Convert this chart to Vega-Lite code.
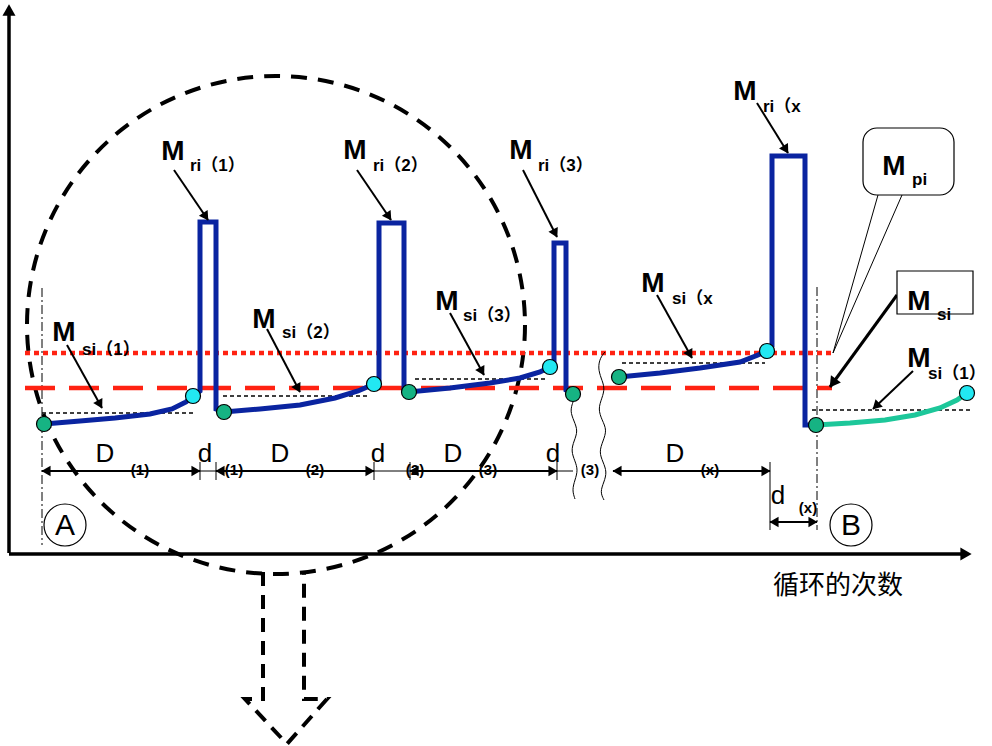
{
  "$schema": "https://vega.github.io/schema/vega-lite/v6.json",
  "width": 992,
  "height": 746,
  "padding": 0,
  "autosize": "none",
  "background": "white",
  "config": {"view": {"stroke": null}},
  "datasets": {
    "circle": [{"x": 276, "y": 325}],
    "axes": [{"x": 9, "y": 553, "x2": 9, "y2": 12}, {"x": 9, "y": 554, "x2": 964, "y2": 554}],
    "axisHeads": [{"x": 9, "y": 10, "ang": 0}, {"x": 966, "y": 554, "ang": 90}],
    "redDot": [{"x": 25, "y": 353, "x2": 832, "y2": 353}],
    "redDash": [{"x": 25, "y": 388, "x2": 832, "y2": 388}],
    "refs": [
      {"x": 42, "y": 413, "x2": 193, "y2": 413},
      {"x": 223, "y": 396, "x2": 367, "y2": 396},
      {"x": 415, "y": 379, "x2": 548, "y2": 379},
      {"x": 622, "y": 363, "x2": 765, "y2": 363},
      {"x": 812, "y": 410, "x2": 970, "y2": 410}
    ],
    "dashdot": [{"x": 42, "y": 288, "x2": 42, "y2": 545}, {"x": 817, "y": 287, "x2": 817, "y2": 530}],
    "blue": [
      {"g": "p1", "i": 1, "x": 44, "y": 424}, {"g": "p1", "i": 2, "x": 80, "y": 421}, {"g": "p1", "i": 3, "x": 115, "y": 418},
      {"g": "p1", "i": 4, "x": 150, "y": 414}, {"g": "p1", "i": 5, "x": 172, "y": 409}, {"g": "p1", "i": 6, "x": 186, "y": 402},
      {"g": "p1", "i": 7, "x": 193, "y": 396}, {"g": "p1", "i": 8, "x": 200, "y": 391}, {"g": "p1", "i": 9, "x": 200, "y": 222},
      {"g": "p1", "i": 10, "x": 216, "y": 222}, {"g": "p1", "i": 11, "x": 216, "y": 409}, {"g": "p1", "i": 12, "x": 224, "y": 412},
      {"g": "p1", "i": 13, "x": 260, "y": 409}, {"g": "p1", "i": 14, "x": 300, "y": 405}, {"g": "p1", "i": 15, "x": 335, "y": 398},
      {"g": "p1", "i": 16, "x": 358, "y": 391}, {"g": "p1", "i": 17, "x": 374, "y": 384}, {"g": "p1", "i": 18, "x": 379, "y": 380},
      {"g": "p1", "i": 19, "x": 379, "y": 223}, {"g": "p1", "i": 20, "x": 404, "y": 223}, {"g": "p1", "i": 21, "x": 404, "y": 390},
      {"g": "p1", "i": 22, "x": 409, "y": 392}, {"g": "p1", "i": 23, "x": 450, "y": 388}, {"g": "p1", "i": 24, "x": 490, "y": 383},
      {"g": "p1", "i": 25, "x": 520, "y": 378}, {"g": "p1", "i": 26, "x": 540, "y": 372}, {"g": "p1", "i": 27, "x": 550, "y": 367},
      {"g": "p1", "i": 28, "x": 554, "y": 363}, {"g": "p1", "i": 29, "x": 554, "y": 243}, {"g": "p1", "i": 30, "x": 566, "y": 243},
      {"g": "p1", "i": 31, "x": 566, "y": 390}, {"g": "p1", "i": 32, "x": 573, "y": 394},
      {"g": "p2", "i": 1, "x": 619, "y": 377}, {"g": "p2", "i": 2, "x": 660, "y": 373}, {"g": "p2", "i": 3, "x": 700, "y": 368},
      {"g": "p2", "i": 4, "x": 740, "y": 362}, {"g": "p2", "i": 5, "x": 758, "y": 355}, {"g": "p2", "i": 6, "x": 767, "y": 351},
      {"g": "p2", "i": 7, "x": 772, "y": 346}, {"g": "p2", "i": 8, "x": 772, "y": 156}, {"g": "p2", "i": 9, "x": 805, "y": 156},
      {"g": "p2", "i": 10, "x": 805, "y": 425}, {"g": "p2", "i": 11, "x": 816, "y": 425}
    ],
    "teal": [
      {"i": 1, "x": 816, "y": 425}, {"i": 2, "x": 850, "y": 423}, {"i": 3, "x": 885, "y": 420}, {"i": 4, "x": 915, "y": 415},
      {"i": 5, "x": 940, "y": 408}, {"i": 6, "x": 957, "y": 400}, {"i": 7, "x": 967, "y": 393}
    ],
    "greenDots": [{"x": 44, "y": 424}, {"x": 224, "y": 412}, {"x": 409, "y": 392}, {"x": 573, "y": 394}, {"x": 619, "y": 377}, {"x": 816, "y": 425}],
    "cyanDots": [{"x": 193, "y": 396}, {"x": 374, "y": 384}, {"x": 550, "y": 367}, {"x": 767, "y": 351}, {"x": 967, "y": 393}],
    "wavy": [
      {"g": "w1", "i": 1, "x": 573, "y": 402}, {"g": "w1", "i": 2, "x": 570, "y": 411}, {"g": "w1", "i": 3, "x": 574, "y": 421},
      {"g": "w1", "i": 4, "x": 578, "y": 431}, {"g": "w1", "i": 5, "x": 574, "y": 441}, {"g": "w1", "i": 6, "x": 571, "y": 451},
      {"g": "w1", "i": 7, "x": 575, "y": 461}, {"g": "w1", "i": 8, "x": 578, "y": 470}, {"g": "w1", "i": 9, "x": 575, "y": 480},
      {"g": "w1", "i": 10, "x": 572, "y": 490}, {"g": "w1", "i": 11, "x": 575, "y": 499},
      {"g": "w2", "i": 1, "x": 605, "y": 352}, {"g": "w2", "i": 2, "x": 600, "y": 358}, {"g": "w2", "i": 3, "x": 598, "y": 368},
      {"g": "w2", "i": 4, "x": 601, "y": 378}, {"g": "w2", "i": 5, "x": 605, "y": 388}, {"g": "w2", "i": 6, "x": 602, "y": 398},
      {"g": "w2", "i": 7, "x": 598, "y": 409}, {"g": "w2", "i": 8, "x": 602, "y": 420}, {"g": "w2", "i": 9, "x": 607, "y": 430},
      {"g": "w2", "i": 10, "x": 603, "y": 441}, {"g": "w2", "i": 11, "x": 599, "y": 452}, {"g": "w2", "i": 12, "x": 603, "y": 462},
      {"g": "w2", "i": 13, "x": 607, "y": 472}, {"g": "w2", "i": 14, "x": 604, "y": 482}, {"g": "w2", "i": 15, "x": 600, "y": 492},
      {"g": "w2", "i": 16, "x": 604, "y": 500}
    ],
    "bigArrow": [
      {"i": 1, "x": 263, "y": 572}, {"i": 2, "x": 263, "y": 699}, {"i": 3, "x": 245, "y": 699}, {"i": 4, "x": 287, "y": 744},
      {"i": 5, "x": 327, "y": 699}, {"i": 6, "x": 304, "y": 699}, {"i": 7, "x": 304, "y": 572}
    ],
    "labelArrows": [
      {"x": 67, "y": 345, "x2": 102, "y2": 408},
      {"x": 267, "y": 329, "x2": 300, "y2": 392},
      {"x": 450, "y": 313, "x2": 484, "y2": 375},
      {"x": 657, "y": 295, "x2": 692, "y2": 358},
      {"x": 174, "y": 170, "x2": 208, "y2": 220},
      {"x": 357, "y": 170, "x2": 391, "y2": 220},
      {"x": 523, "y": 170, "x2": 557, "y2": 237},
      {"x": 757, "y": 103, "x2": 788, "y2": 153},
      {"x": 913, "y": 371, "x2": 873, "y2": 409}
    ],
    "boxArrow": [{"x": 897, "y": 295, "x2": 830, "y2": 387}],
    "labelHeads": [
      {"x": 100, "y": 404.5, "ang": 151}, {"x": 298, "y": 388.5, "ang": 152}, {"x": 482, "y": 371.5, "ang": 151},
      {"x": 690, "y": 354.5, "ang": 151}, {"x": 205.8, "y": 216.7, "ang": 146}, {"x": 388.8, "y": 216.7, "ang": 146},
      {"x": 555.2, "y": 233.4, "ang": 153}, {"x": 785.9, "y": 149.6, "ang": 148}, {"x": 875.9, "y": 406.2, "ang": 226}
    ],
    "boxHead": [{"x": 832.8, "y": 383.2, "ang": 216}],
    "dims": [
      {"x": 42, "y": 471, "x2": 200, "y2": 471},
      {"x": 216, "y": 471, "x2": 374, "y2": 471},
      {"x": 410, "y": 471, "x2": 557, "y2": 471},
      {"x": 613, "y": 471, "x2": 770, "y2": 471},
      {"x": 770, "y": 522, "x2": 817, "y2": 522}
    ],
    "dimHeads": [
      {"x": 46, "y": 471, "ang": 270}, {"x": 196, "y": 471, "ang": 90},
      {"x": 220, "y": 471, "ang": 270}, {"x": 370, "y": 471, "ang": 90},
      {"x": 414, "y": 471, "ang": 270}, {"x": 553, "y": 471, "ang": 90},
      {"x": 617, "y": 471, "ang": 270}, {"x": 766, "y": 471, "ang": 90},
      {"x": 774, "y": 522, "ang": 270}, {"x": 813, "y": 522, "ang": 90}
    ],
    "thin": [
      {"x": 200, "y": 471, "x2": 216, "y2": 471},
      {"x": 374, "y": 471, "x2": 410, "y2": 471},
      {"x": 557, "y": 471, "x2": 573, "y2": 471},
      {"x": 200, "y": 462, "x2": 200, "y2": 480},
      {"x": 216, "y": 462, "x2": 216, "y2": 480},
      {"x": 374, "y": 462, "x2": 374, "y2": 480},
      {"x": 410, "y": 462, "x2": 410, "y2": 480},
      {"x": 557, "y": 462, "x2": 557, "y2": 480},
      {"x": 770, "y": 462, "x2": 770, "y2": 530},
      {"x": 878, "y": 195, "x2": 833, "y2": 353},
      {"x": 902, "y": 195, "x2": 833, "y2": 353}
    ],
    "calloutBox": [{"x": 863, "y": 128, "x2": 954, "y2": 195}],
    "siBox": [{"x": 897, "y": 271, "x2": 973, "y2": 314}],
    "bigM": [
      {"x": 64, "y": 341, "t": "M"}, {"x": 264, "y": 328, "t": "M"}, {"x": 447, "y": 310, "t": "M"},
      {"x": 653, "y": 292, "t": "M"}, {"x": 173, "y": 160, "t": "M"}, {"x": 355, "y": 159, "t": "M"},
      {"x": 521, "y": 159, "t": "M"}, {"x": 745, "y": 100, "t": "M"}, {"x": 894, "y": 175, "t": "M"},
      {"x": 919, "y": 310, "t": "M"}, {"x": 919, "y": 367, "t": "M"}
    ],
    "subs": [
      {"x": 82, "y": 355, "t": "si（1）"}, {"x": 282, "y": 338, "t": "si（2）"}, {"x": 463, "y": 321, "t": "si（3）"},
      {"x": 672, "y": 304, "t": "si（x"}, {"x": 190, "y": 171, "t": "ri（1）"}, {"x": 373, "y": 171, "t": "ri（2）"},
      {"x": 538, "y": 171, "t": "ri（3）"}, {"x": 763, "y": 112, "t": "ri（x"}, {"x": 912, "y": 185, "t": "pi"},
      {"x": 937, "y": 320, "t": "si"}, {"x": 928, "y": 379, "t": "si（1）"}
    ],
    "dimText": [
      {"x": 105, "y": 462, "t": "D"}, {"x": 280, "y": 462, "t": "D"}, {"x": 453, "y": 462, "t": "D"}, {"x": 675, "y": 462, "t": "D"},
      {"x": 205, "y": 462, "t": "d"}, {"x": 378, "y": 462, "t": "d"}, {"x": 553, "y": 462, "t": "d"}, {"x": 778, "y": 504, "t": "d"}
    ],
    "dimSubs": [
      {"x": 140, "y": 475, "t": "(1)"}, {"x": 234, "y": 475, "t": "(1)"}, {"x": 315, "y": 475, "t": "(2)"},
      {"x": 415, "y": 475, "t": "(2)"}, {"x": 488, "y": 475, "t": "(3)"}, {"x": 590, "y": 475, "t": "(3)"},
      {"x": 710, "y": 475, "t": "(x)"}, {"x": 808, "y": 513, "t": "(x)"}
    ],
    "circles": [{"x": 65, "y": 525, "t": "A"}, {"x": 851, "y": 525, "t": "B"}],
    "title": [{"x": 838, "y": 594, "t": "循环的次数"}]
  },
  "encoding": {
    "x": {"field": "x", "type": "quantitative", "scale": {"domain": [0, 992], "nice": false, "zero": false}, "axis": null},
    "y": {"field": "y", "type": "quantitative", "scale": {"domain": [0, 746], "nice": false, "zero": false, "reverse": true}, "axis": null}
  },
  "layer": [
    {"data": {"name": "circle"}, "mark": {"type": "point", "shape": "circle", "size": 248000, "filled": false, "stroke": "black", "strokeWidth": 4, "strokeDash": [16, 11], "opacity": 1}},
    {"data": {"name": "bigArrow"}, "mark": {"type": "line", "stroke": "black", "strokeWidth": 4, "strokeDash": [14, 9]}, "encoding": {"order": {"field": "i", "type": "quantitative"}}},
    {"data": {"name": "axes"}, "mark": {"type": "rule", "stroke": "black", "strokeWidth": 3.5}, "encoding": {"x2": {"field": "x2"}, "y2": {"field": "y2"}}},
    {"data": {"name": "axisHeads"}, "mark": {"type": "point", "shape": "triangle-up", "filled": true, "fill": "black", "size": 170, "opacity": 1}, "encoding": {"angle": {"field": "ang", "type": "quantitative", "scale": {"domain": [0, 360], "range": [0, 360]}}}},
    {"data": {"name": "dashdot"}, "mark": {"type": "rule", "stroke": "black", "strokeWidth": 1, "strokeDash": [9, 3, 2, 3]}, "encoding": {"x2": {"field": "x2"}, "y2": {"field": "y2"}}},
    {"data": {"name": "redDot"}, "mark": {"type": "rule", "stroke": "#ff2212", "strokeWidth": 4.5, "strokeDash": [5, 4]}, "encoding": {"x2": {"field": "x2"}, "y2": {"field": "y2"}}},
    {"data": {"name": "redDash"}, "mark": {"type": "rule", "stroke": "#ff2212", "strokeWidth": 4.5, "strokeDash": [30, 14]}, "encoding": {"x2": {"field": "x2"}, "y2": {"field": "y2"}}},
    {"data": {"name": "refs"}, "mark": {"type": "rule", "stroke": "black", "strokeWidth": 1.5, "strokeDash": [4, 3]}, "encoding": {"x2": {"field": "x2"}, "y2": {"field": "y2"}}},
    {"data": {"name": "wavy"}, "mark": {"type": "line", "stroke": "black", "strokeWidth": 1, "interpolate": "basis"}, "encoding": {"detail": {"field": "g"}, "order": {"field": "i", "type": "quantitative"}}},
    {"data": {"name": "blue"}, "mark": {"type": "line", "stroke": "#0a24a0", "strokeWidth": 5, "strokeJoin": "miter"}, "encoding": {"detail": {"field": "g"}, "order": {"field": "i", "type": "quantitative"}}},
    {"data": {"name": "teal"}, "mark": {"type": "line", "stroke": "#1dc79a", "strokeWidth": 5}, "encoding": {"order": {"field": "i", "type": "quantitative"}}},
    {"data": {"name": "greenDots"}, "mark": {"type": "point", "shape": "circle", "size": 225, "filled": true, "fill": "#16b383", "stroke": "black", "strokeWidth": 1.2, "opacity": 1}},
    {"data": {"name": "cyanDots"}, "mark": {"type": "point", "shape": "circle", "size": 225, "filled": true, "fill": "#22e8f2", "stroke": "black", "strokeWidth": 1.2, "opacity": 1}},
    {"data": {"name": "labelArrows"}, "mark": {"type": "rule", "stroke": "black", "strokeWidth": 2}, "encoding": {"x2": {"field": "x2"}, "y2": {"field": "y2"}}},
    {"data": {"name": "boxArrow"}, "mark": {"type": "rule", "stroke": "black", "strokeWidth": 3}, "encoding": {"x2": {"field": "x2"}, "y2": {"field": "y2"}}},
    {"data": {"name": "labelHeads"}, "mark": {"type": "point", "shape": "triangle-up", "filled": true, "fill": "black", "size": 110, "opacity": 1}, "encoding": {"angle": {"field": "ang", "type": "quantitative", "scale": {"domain": [0, 360], "range": [0, 360]}}}},
    {"data": {"name": "boxHead"}, "mark": {"type": "point", "shape": "triangle-up", "filled": true, "fill": "black", "size": 150, "opacity": 1}, "encoding": {"angle": {"field": "ang", "type": "quantitative", "scale": {"domain": [0, 360], "range": [0, 360]}}}},
    {"data": {"name": "dims"}, "mark": {"type": "rule", "stroke": "black", "strokeWidth": 2}, "encoding": {"x2": {"field": "x2"}, "y2": {"field": "y2"}}},
    {"data": {"name": "dimHeads"}, "mark": {"type": "point", "shape": "triangle-up", "filled": true, "fill": "black", "size": 110, "opacity": 1}, "encoding": {"angle": {"field": "ang", "type": "quantitative", "scale": {"domain": [0, 360], "range": [0, 360]}}}},
    {"data": {"name": "thin"}, "mark": {"type": "rule", "stroke": "black", "strokeWidth": 1}, "encoding": {"x2": {"field": "x2"}, "y2": {"field": "y2"}}},
    {"data": {"name": "calloutBox"}, "mark": {"type": "rect", "fill": "white", "stroke": "black", "strokeWidth": 1.2, "cornerRadius": 14}, "encoding": {"x2": {"field": "x2"}, "y2": {"field": "y2"}}},
    {"data": {"name": "siBox"}, "mark": {"type": "rect", "fill": "white", "stroke": "black", "strokeWidth": 1.2}, "encoding": {"x2": {"field": "x2"}, "y2": {"field": "y2"}}},
    {"data": {"name": "circles"}, "mark": {"type": "point", "shape": "circle", "size": 1764, "filled": false, "stroke": "black", "strokeWidth": 1.2, "opacity": 1}},
    {"data": {"name": "circles"}, "mark": {"type": "text", "font": "Liberation Sans", "fontSize": 30, "align": "center", "baseline": "middle", "dy": 1, "color": "black"}, "encoding": {"text": {"field": "t"}}},
    {"data": {"name": "bigM"}, "mark": {"type": "text", "font": "Liberation Sans", "fontWeight": "bold", "fontSize": 28, "align": "center", "baseline": "alphabetic", "color": "black"}, "encoding": {"text": {"field": "t"}}},
    {"data": {"name": "subs"}, "mark": {"type": "text", "font": "Liberation Sans, Noto Sans CJK SC", "fontWeight": "bold", "fontSize": 17, "align": "left", "baseline": "alphabetic", "color": "black"}, "encoding": {"text": {"field": "t"}}},
    {"data": {"name": "dimText"}, "mark": {"type": "text", "font": "Liberation Sans", "fontSize": 26, "align": "center", "baseline": "alphabetic", "color": "black"}, "encoding": {"text": {"field": "t"}}},
    {"data": {"name": "dimSubs"}, "mark": {"type": "text", "font": "Liberation Sans", "fontWeight": "bold", "fontSize": 15, "align": "center", "baseline": "alphabetic", "color": "black"}, "encoding": {"text": {"field": "t"}}},
    {"data": {"name": "title"}, "mark": {"type": "text", "font": "Noto Sans CJK SC", "fontSize": 26, "align": "center", "baseline": "alphabetic", "color": "black"}, "encoding": {"text": {"field": "t"}}}
  ]
}
